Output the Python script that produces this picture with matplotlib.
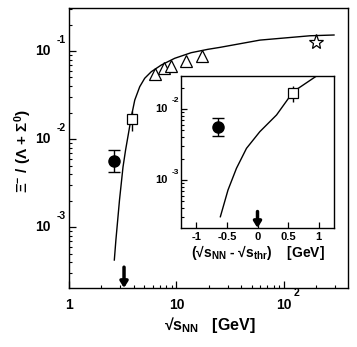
import matplotlib
matplotlib.use('Agg')
import matplotlib.pyplot as plt
from matplotlib.transforms import blended_transform_factory, offset_copy

plt.rcParams['font.family'] = ['Liberation Sans', 'DejaVu Sans']
plt.rcParams['font.weight'] = 'bold'
plt.rcParams['axes.unicode_minus'] = False
plt.rcParams['mathtext.fontset'] = 'custom'
plt.rcParams['mathtext.rm'] = 'Liberation Sans:bold'
plt.rcParams['mathtext.bf'] = 'Liberation Sans:bold'
plt.rcParams['mathtext.it'] = 'Liberation Sans:bold'
plt.rcParams['mathtext.default'] = 'bf'

# threshold energy (GeV)
sqrt_thr = 3.25

# filled circle (below threshold)
circ_x = [2.61]
circ_y = [5.6e-3]
circ_lo = [4.2e-3]
circ_hi = [7.5e-3]

# open square
sq_x = [3.83]
sq_y = [0.0170]
sq_lo = [0.0124]
sq_hi = [0.0210]

# open triangles
tri_x = [6.3, 7.6, 8.8, 12.3, 17.3]
tri_y = [0.0543, 0.0646, 0.0680, 0.0776, 0.0885]
tri_err = [0.007, 0.008, 0.008, 0.010, 0.011]

# open star
star_x = [200.0]
star_y = [0.128]

# model curve, main panel
model_x = [2.64, 2.73, 2.95, 3.18, 3.36, 3.58, 3.80, 4.09, 4.55, 5.06, 5.83,
           7.22, 9.62, 13.7, 19.6, 25.4, 59.8, 175.0, 292.0]
model_y = [4.22e-4, 7.1e-4, 2.03e-3, 4.81e-3, 7.5e-3, 0.0117, 0.0179, 0.0277,
           0.0393, 0.049, 0.0582, 0.0693, 0.0826, 0.0957, 0.1045, 0.110,
           0.133, 0.149, 0.152]

# model curve, inset (sqrt(s) - sqrt(s_thr))
inset_dx = [-0.607, -0.482, -0.344, -0.180, 0.038, 0.311, 0.584, 0.967]
inset_y = [3.04e-4, 7.23e-4, 1.46e-3, 2.79e-3, 4.79e-3, 8.23e-3, 0.0175, 0.0292]

main_yticks = [1e-3, 1e-2, 1e-1]
main_yexp = ['-3', '-2', '-1']
inset_yticks = [1e-3, 1e-2]
inset_yexp = ['-3', '-2']
inset_xticks = [-1, -0.5, 0, 0.5, 1]
inset_xlabels = ['-1', '-0.5', '0', '0.5', '1']

W, H = 357, 347
fig = plt.figure(figsize=(W / 100, H / 100), dpi=100)

# ---------------- main panel ----------------
ax = fig.add_axes([69 / W, 1 - 288 / H, 279 / W, 280 / H])
ax.set_xscale('log')
ax.set_yscale('log')
ax.set_xlim(1, 394)
ax.set_ylim(2.03e-4, 0.308)

ax.plot(model_x, model_y, color='k', lw=1.0)
ax.errorbar(circ_x, circ_y,
            yerr=[[c - l for c, l in zip(circ_y, circ_lo)], [h - c for c, h in zip(circ_y, circ_hi)]],
            fmt='o', color='k', ms=8, lw=1, capsize=4.5, capthick=1)
ax.errorbar(sq_x, sq_y,
            yerr=[[c - l for c, l in zip(sq_y, sq_lo)], [h - c for c, h in zip(sq_y, sq_hi)]],
            fmt='s', mfc='white', mec='k', color='k', ms=7.5, mew=0.9, lw=1)
ax.errorbar(tri_x, tri_y, yerr=tri_err, fmt='^', mfc='white', mec='k', color='k',
            ms=9, mew=0.9, lw=0.8)
ax.plot(star_x, star_y, '*', mfc='white', mec='k', ms=11, mew=0.9)

ax.annotate('', xy=(sqrt_thr, 2.03e-4), xytext=(sqrt_thr, 3.5e-4),
            arrowprops=dict(arrowstyle='-|>,head_width=0.22,head_length=0.35',
                            lw=2.5, color='k', shrinkA=0, shrinkB=0))

ax.tick_params(which='both', direction='in', top=False, right=False,
               labelbottom=False, labelleft=False)
ax.tick_params(which='major', length=5, width=0.9)
ax.tick_params(which='minor', length=2.5, width=0.8)
for s in ax.spines.values():
    s.set_linewidth(1.0)

# ROOT style tick labels
ty = blended_transform_factory(ax.transAxes, ax.transData)
for v, e in zip(main_yticks, main_yexp):
    ax.text(0, v, '10', transform=offset_copy(ty, fig=fig, x=-18, y=0, units='dots'),
            ha='right', va='center', fontsize=10)
    ax.text(0, v, e, transform=offset_copy(ty, fig=fig, x=-12, y=11, units='dots'),
            ha='left', va='center', fontsize=7.5)

tx = blended_transform_factory(ax.transData, ax.transAxes)
for v, lab in [(1, '1'), (10, '10'), (100, '10')]:
    ax.text(v, 0, lab, transform=offset_copy(tx, fig=fig, x=0, y=-17, units='dots'),
            ha='center', va='center', fontsize=10)
ax.text(100, 0, '2', transform=offset_copy(tx, fig=fig, x=12.5, y=-5, units='dots'),
        ha='center', va='center', fontsize=7.5)

ax.text(0.505, -0.132, r'√s$_{NN}$   [GeV]', transform=ax.transAxes,
        ha='center', va='center', fontsize=11.5)
ax.text(-0.165, 0.49, r'$\Xi^{-}$ / ($\Lambda$ + $\Sigma^{0}$)', transform=ax.transAxes,
        ha='center', va='center', rotation=90, fontsize=11)

# ---------------- inset ----------------
ins = fig.add_axes([181 / W, 1 - 228 / H, 153 / W, 152.3 / H])
ins.set_yscale('log')
ins.set_xlim(-1.25, 1.25)
ins.set_ylim(2.11e-4, 0.0294)

ins.plot(inset_dx, inset_y, color='k', lw=1.0)
ins.errorbar([x - sqrt_thr for x in circ_x], circ_y,
             yerr=[[c - l for c, l in zip(circ_y, circ_lo)], [h - c for c, h in zip(circ_y, circ_hi)]],
             fmt='o', color='k', ms=8, lw=1, capsize=4.5, capthick=1)
ins.errorbar([x - sqrt_thr for x in sq_x], sq_y,
             yerr=[[c - l for c, l in zip(sq_y, sq_lo)], [h - c for c, h in zip(sq_y, sq_hi)]],
             fmt='s', mfc='white', mec='k', color='k', ms=7.5, mew=0.9, lw=1)
ins.annotate('', xy=(0, 2.11e-4), xytext=(0, 3.6e-4),
             arrowprops=dict(arrowstyle='-|>,head_width=0.22,head_length=0.35',
                             lw=2.5, color='k', shrinkA=0, shrinkB=0))

ins.set_xticks(inset_xticks)
ins.set_xticklabels(inset_xlabels, fontsize=8)
ins.tick_params(which='both', direction='in', top=False, right=False, labelleft=False)
ins.tick_params(axis='x', which='major', length=4, width=0.9, pad=3)
ins.tick_params(axis='y', which='major', length=4, width=0.9)
ins.tick_params(axis='y', which='minor', length=2, width=0.8)
for s in ins.spines.values():
    s.set_linewidth(1.0)

ity = blended_transform_factory(ins.transAxes, ins.transData)
for v, e in zip(inset_yticks, inset_yexp):
    ins.text(0, v, '10', transform=offset_copy(ity, fig=fig, x=-13, y=0, units='dots'),
             ha='right', va='center', fontsize=8)
    ins.text(0, v, e, transform=offset_copy(ity, fig=fig, x=-9, y=8, units='dots'),
             ha='left', va='center', fontsize=6)

ins.text(0.5, -0.164, r'(√s$_{NN}$ - √s$_{thr}$)    [GeV]', transform=ins.transAxes,
         ha='center', va='center', fontsize=10)

fig.savefig('out.png', dpi=100)
